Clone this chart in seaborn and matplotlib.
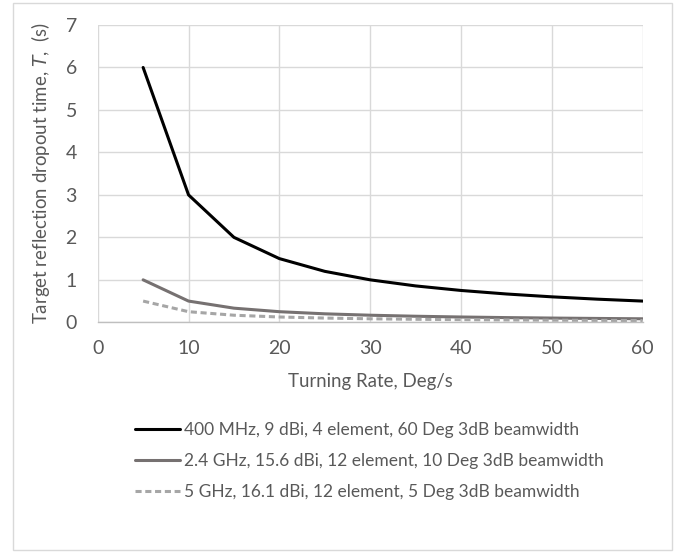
import matplotlib
matplotlib.use("Agg")
import matplotlib.pyplot as plt
import seaborn as sns
import pandas as pd
from matplotlib.lines import Line2D

turning_rate = [5, 10, 15, 20, 25, 30, 35, 40, 45, 50, 55, 60]
series_400mhz = [6.0, 3.0, 2.0, 1.5, 1.2, 1.0, 0.857, 0.75, 0.667, 0.6, 0.545, 0.5]
series_24ghz = [1.0, 0.5, 0.333, 0.25, 0.2, 0.167, 0.143, 0.125, 0.111, 0.1, 0.091, 0.083]
series_5ghz = [0.5, 0.25, 0.167, 0.125, 0.1, 0.083, 0.071, 0.063, 0.056, 0.05, 0.045, 0.042]
labels = [
    "400 MHz, 9 dBi, 4 element, 60 Deg 3dB beamwidth",
    "2.4 GHz, 15.6 dBi, 12 element, 10 Deg 3dB beamwidth",
    "5 GHz, 16.1 dBi, 12 element, 5 Deg 3dB beamwidth",
]
x_ticks = [0, 10, 20, 30, 40, 50, 60]
y_ticks = [0, 1, 2, 3, 4, 5, 6, 7]

rows = []
for lab, vals in zip(labels, [series_400mhz, series_24ghz, series_5ghz]):
    for x, v in zip(turning_rate, vals):
        rows.append({"rate": x, "T": v, "series": lab})
df = pd.DataFrame(rows)

sns.set_theme(style="white")
plt.rcParams["font.family"] = ["Lato", "DejaVu Sans"]

text_color = "#595959"
fig = plt.figure(figsize=(6.8, 5.52), dpi=100)
ax = fig.add_axes([0.1437, 0.4161, 0.9451 - 0.1437, 0.9547 - 0.4161])

colors = ["#000000", "#767171", "#a6a6a6"]
palette = dict(zip(labels, colors))
dashes = {labels[0]: "", labels[1]: "", labels[2]: (2, 1.2)}
sns.lineplot(data=df, x="rate", y="T", hue="series", style="series",
             palette=palette, dashes=dashes, linewidth=2.2, ax=ax,
             legend=False)

ax.set_xlim(0, 60)
ax.set_ylim(0, 7)
ax.set_xticks(x_ticks)
ax.set_yticks(y_ticks)
ax.grid(True, color="#d9d9d9", linewidth=1)
for s in ["top", "right", "left"]:
    ax.spines[s].set_visible(False)
ax.spines["bottom"].set_color("#bfbfbf")
ax.spines["bottom"].set_linewidth(1)
ax.tick_params(axis="both", length=0, labelsize=14, colors=text_color)
ax.tick_params(axis="x", pad=13)
ax.tick_params(axis="y", pad=15)

ax.set_xlabel("Turning Rate, Deg/s", fontsize=13.4, color=text_color, labelpad=11)
ax.set_ylabel("Target reflection dropout time, $\\mathit{T}$,  (s)", fontsize=13.4,
              color=text_color, labelpad=10)

handles = [
    Line2D([], [], color=colors[0], lw=2.2),
    Line2D([], [], color=colors[1], lw=2.2),
    Line2D([], [], color=colors[2], lw=2.2, linestyle=(0, (2, 1.2))),
]
leg = fig.legend(handles, labels, loc="upper left",
                 bbox_to_anchor=(128 / 680, 1 - 415 / 552),
                 frameon=False, fontsize=12.5, handlelength=2.6,
                 handletextpad=0.25, labelspacing=0.86, borderaxespad=0)
for t in leg.get_texts():
    t.set_color(text_color)

border = plt.Rectangle((13 / 680, 1 - 550 / 552), (672 - 13) / 680, (550 - 3) / 552,
                       transform=fig.transFigure, fill=False,
                       edgecolor="#d9d9d9", linewidth=1)
fig.patches.append(border)

fig.savefig("out.png", dpi=100)
